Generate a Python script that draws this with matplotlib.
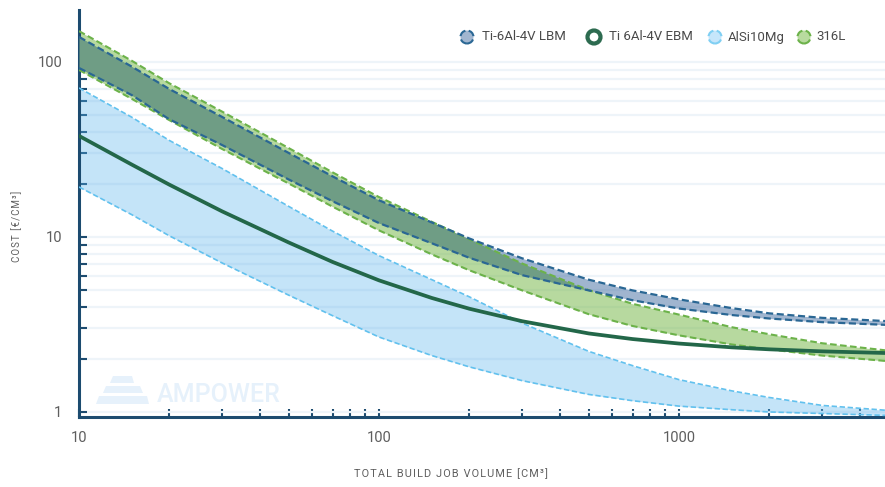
import numpy as np
import matplotlib.pyplot as plt
from matplotlib.patches import Circle, Polygon
from matplotlib.ticker import LogLocator, NullFormatter, FixedFormatter, FixedLocator

plt.rcParams['font.family'] = ['Roboto', 'DejaVu Sans']

# build job volume [cm3]
volume = [10, 15, 20, 30, 50, 70, 100, 150, 200, 300, 500, 700, 1000, 1500, 2000, 3000, 5000]

# cost per cm3, lower / upper bound of each material band
lbm_hi = [139, 94, 70, 48.5, 30.2, 22.2, 16.2, 12.1, 9.8, 7.55, 5.7, 4.95, 4.4, 3.92, 3.66, 3.45, 3.3]
lbm_lo = [92.4, 64.6, 47, 33.5, 21.3, 16.0, 12.0, 9.2, 7.6, 6.05, 4.95, 4.35, 3.9, 3.58, 3.42, 3.26, 3.14]
ebm = [37.8, 25.9, 19.9, 14.0, 9.3, 7.2, 5.65, 4.48, 3.89, 3.3, 2.81, 2.61, 2.46, 2.34, 2.28, 2.22, 2.17]
alsi_hi = [71, 48.3, 35.6, 24.6, 14.95, 10.8, 7.82, 5.7, 4.55, 3.22, 2.22, 1.84, 1.53, 1.32, 1.21, 1.09, 1.02]
alsi_lo = [19.3, 13.4, 10.15, 7.1, 4.65, 3.55, 2.68, 2.1, 1.81, 1.51, 1.26, 1.16, 1.08, 1.03, 1.0, 0.98, 0.955]
ss_hi = [150, 101.5, 75.5, 52, 32.2, 23.4, 16.9, 12.2, 9.7, 7.05, 4.97, 4.15, 3.6, 3.05, 2.78, 2.47, 2.24]
ss_lo = [90, 61.5, 46.5, 31.8, 20.2, 14.9, 10.9, 7.95, 6.45, 4.95, 3.62, 3.1, 2.74, 2.43, 2.28, 2.1, 1.95]

labels = ['Ti-6Al-4V LBM', 'Ti 6Al-4V EBM', 'AlSi10Mg', '316L']

navy = '#1c4b6f'
txt = '#5e5e5e'


def spaced(s):
    return '\u200a'.join(s)


fig = plt.figure(figsize=(8.85, 4.87), dpi=100)
ax = fig.add_axes([79 / 885, 70 / 487, 806 / 885, 407 / 487])
ax.set_xscale('log')
ax.set_yscale('log')
ax.set_xlim(10, 4860)
ax.set_ylim(0.936, 198)

x = np.array(volume)

# bands
ax.fill_between(x, alsi_lo, alsi_hi, color='#56b2eb', alpha=0.35, lw=0, zorder=2)
ax.fill_between(x, lbm_lo, lbm_hi, color='#436da1', alpha=0.5, lw=0, zorder=2)
ax.fill_between(x, ss_lo, ss_hi, color='#71b541', alpha=0.5, lw=0, zorder=2)
ov_lo = np.maximum(lbm_lo, ss_lo)
ov_hi = np.minimum(lbm_hi, ss_hi)
ax.fill_between(x, ov_lo, ov_hi, where=ov_hi > ov_lo, interpolate=True,
                color='#6f9d85', lw=0, zorder=3)

dash = (0, (3.2, 1.6))
ax.plot(x, alsi_hi, color='#62c1ee', lw=1.2, ls=dash, zorder=4)
ax.plot(x, alsi_lo, color='#62c1ee', lw=1.2, ls=dash, zorder=4)
ax.plot(x, ss_hi, color='#6cb24a', lw=1.5, ls=dash, zorder=4)
ax.plot(x, ss_lo, color='#6cb24a', lw=1.5, ls=dash, zorder=4)
ax.plot(x, lbm_hi, color='#2a6794', lw=1.6, ls=dash, zorder=5)
ax.plot(x, lbm_lo, color='#2a6794', lw=1.6, ls=dash, zorder=5)
ax.plot(x, ebm, color='#236749', lw=2.7, zorder=6, solid_capstyle='round')

# horizontal grid on every tick
ax.yaxis.set_major_locator(FixedLocator([1, 10, 100]))
ax.yaxis.set_major_formatter(FixedFormatter(['1', '10', '100']))
ax.yaxis.set_minor_locator(LogLocator(base=10, subs=np.arange(2, 10)))
ax.yaxis.set_minor_formatter(NullFormatter())
ax.xaxis.set_major_locator(FixedLocator([10, 100, 1000]))
ax.xaxis.set_major_formatter(FixedFormatter(['10', '100', '1000']))
ax.xaxis.set_minor_locator(LogLocator(base=10, subs=np.arange(2, 10)))
ax.xaxis.set_minor_formatter(NullFormatter())
ax.grid(True, axis='y', which='both', color='#eef4f9', lw=1.6, zorder=0)
ax.set_axisbelow(True)

for s in ['top', 'right']:
    ax.spines[s].set_visible(False)
for s in ['left', 'bottom']:
    ax.spines[s].set_color(navy)
    ax.spines[s].set_linewidth(2.2)
ax.tick_params(which='both', direction='in', color=navy, width=1.5, length=6,
               labelcolor=txt, labelsize=10.5)
ax.tick_params(axis='y', which='both', pad=12)
ax.tick_params(axis='x', which='both', pad=10)

# axis titles
fig.text(451 / 885, 1 - 474 / 487, spaced('TOTAL BUILD JOB VOLUME [CM³]'), ha='center',
         va='center', fontsize=7.8, color=txt)
fig.text(17 / 885, 1 - 226 / 487, spaced('COST [€/CM³]'), rotation=90, ha='center',
         va='center', fontsize=7, color=txt)

# watermark
wm = '#e6f1fb'
fig.text(157 / 885, 1 - 395 / 487, 'AMPOWER', fontsize=18, fontweight='medium', color=wm,
         va='center', ha='left', zorder=1)
H = 487
for pts in [[(113, 376), (132, 376), (134, 383), (110, 383)],
            [(106, 386), (140, 386), (143, 393), (103, 393)],
            [(99, 396), (147, 396), (149, 404), (96, 404)]]:
    fig.add_artist(Polygon([(px / 100, (H - py) / 100) for px, py in pts], closed=True,
                           transform=fig.dpi_scale_trans, facecolor=wm, edgecolor='none', zorder=1))

# legend
items = [
    (467, 482, '#a1b6d0', '#2a6794', '--', 1.5),
    (594, 609, 'white', '#2d6b50', '-', 3.0),
    (715, 728, '#c6e6fb', '#7fcff3', '--', 1.5),
    (804, 816, '#b8db9f', '#6cb24a', '--', 1.5),
]
for (cx, tx, fc, ec, ls, lw), lab in zip(items, labels):
    fig.add_artist(Circle((cx / 100, (H - 37) / 100), 0.065, transform=fig.dpi_scale_trans,
                          facecolor=fc, edgecolor=ec, linestyle=ls, lw=lw, zorder=10))
    fig.text(tx / 885, 1 - 37 / 487, lab, fontsize=9.5, color='#4a4a4a', va='center', ha='left')

fig.savefig('out.png', dpi=100)
